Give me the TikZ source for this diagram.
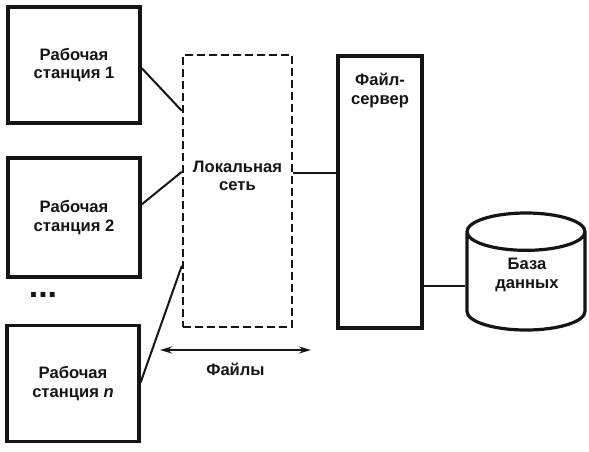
\documentclass[tikz,border=0pt]{standalone}
\usepackage{fontspec}
\setmainfont{Liberation Sans}
\usetikzlibrary{shapes.geometric, arrows.meta, positioning, calc}
\definecolor{inkblack}{HTML}{151515}
\tikzset{
  lbl/.style={font=\fontsize{8.3}{9.2}\selectfont\bfseries, align=center, text=inkblack},
  wsbox/.style={rectangle, draw=inkblack, line width=1.6pt, minimum width=66pt,
                minimum height=58pt, align=center, lbl},
  lanbox/.style={rectangle, draw=inkblack, line width=1.2pt, dash pattern=on 4pt off 2pt,
                 minimum width=54.5pt, minimum height=136pt},
  srvbox/.style={rectangle, draw=inkblack, line width=1.6pt, minimum width=42pt,
                 minimum height=136pt},
  dbcyl/.style={cylinder, shape border rotate=90, aspect=2.8, draw=inkblack,
                line width=1.6pt, minimum width=59pt, minimum height=58.5pt},
  wire/.style={draw=inkblack, line width=1pt},
  filearrow/.style={<->, draw=inkblack, line width=1pt, >={Stealth[length=6pt,width=3.5pt]}},
}

\begin{document}
\begin{tikzpicture}[x=0.5pt, y=-0.5pt]
  \useasboundingbox (0,0) rectangle (589,451);

  % workstations down the left side
  \node[wsbox] (ws1) at (74, 65) {Рабочая\\станция 1};
  \node[wsbox, minimum height=59.5pt] (ws2) at (74, 217.5) {Рабочая\\станция 2};
  \node[lbl, font=\fontsize{17}{17}\selectfont\bfseries] (dots) at (43, 295) {...};
  \node[wsbox] (wsn) at (73, 383.5) {Рабочая\\станция \textit{n}};

  % local network in the middle
  \node[lanbox] (lan) at (237.5, 191) {};
  \node[lbl] (lantxt) at (237.5, 176) {Локальная\\сеть};

  % file server and database on the right
  \node[srvbox] (srv) at (380, 192) {};
  \node[lbl, anchor=north] (srvtxt) at ([yshift=-6pt]srv.north) {Файл-\\сервер};
  \node[dbcyl, anchor=shape center] (db) at (526, 271.5) {};
  \node[lbl] (dbtxt) at (527, 275) {База\\данных};

  % links
  \draw[wire] ($(ws1.east)+(0,3)$) -- ($(lan.north west)+(0,57)$);
  \draw[wire] ($(ws2.east)+(0,-13)$) -- ($(lan.north west)+(0,118)$);
  \draw[wire] ($(wsn.east)+(0,-1)$) -- ($(lan.north west)+(0,212)$);
  \draw[wire] ($(lan.east)+(0,-18)$) -- (srv.west |- {$(lan.east)+(0,-18)$});
  \draw[wire] (srv.east |- db.west) -- (db.west);

  % file exchange
  \coordinate (fl) at (160, 350);
  \coordinate (fr) at (311, 350);
  \draw[filearrow] (fl) -- (fr);
  \node[lbl, below=3pt of $(fl)!0.5!(fr)$] (files) {Файлы};
\end{tikzpicture}
\end{document}
